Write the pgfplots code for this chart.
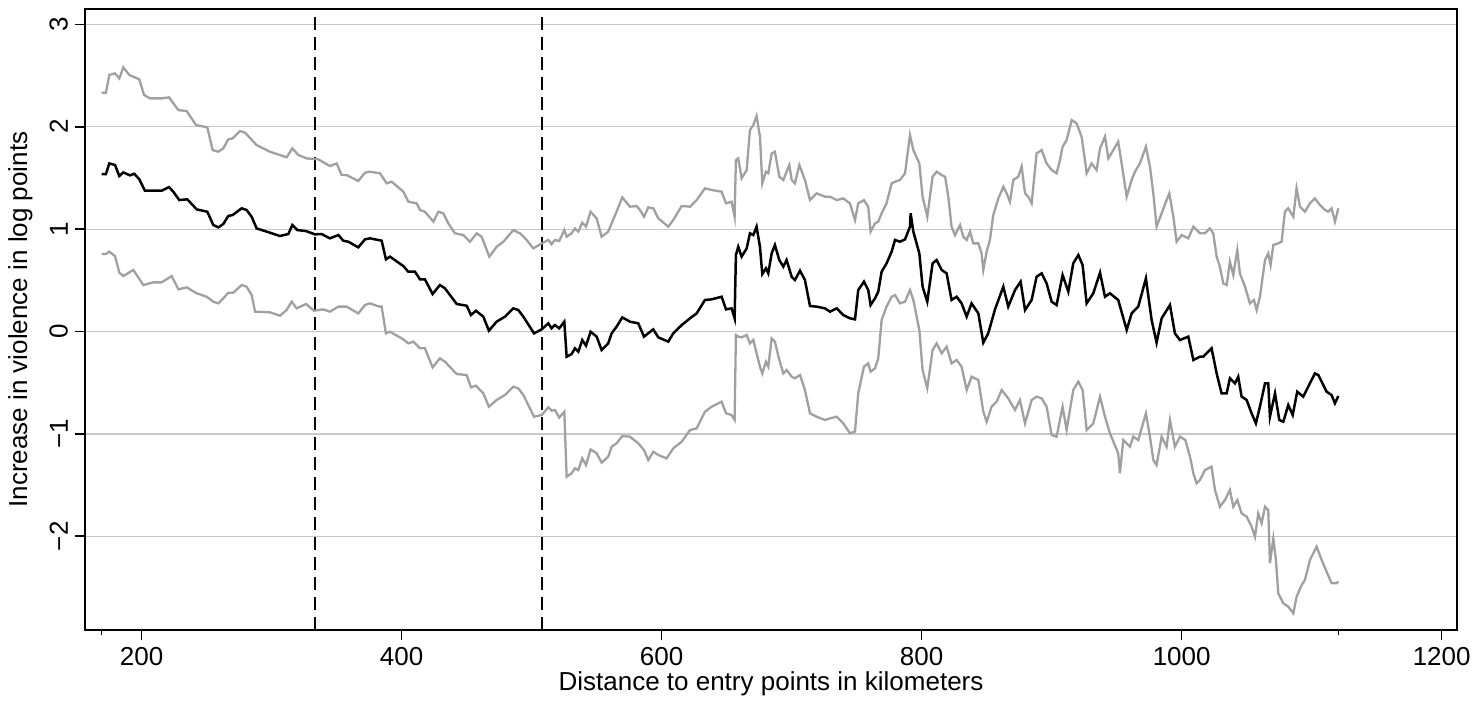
\documentclass[border=0pt]{standalone}
\usepackage{pgfplots}
\pgfplotsset{compat=1.18}
\usepackage{fontspec}
\setmainfont{Liberation Sans}
\definecolor{cigray}{RGB}{160,160,160}
\definecolor{gridgray}{RGB}{200,200,200}
\begin{document}
\begin{tikzpicture}[font=\fontsize{13}{15.6}\selectfont]
\begin{axis}[
  scale only axis, width=686pt, height=310.5pt,
  xmin=156.4, xmax=1211.8, ymin=-2.915, ymax=3.15,
  xtick={200,400,600,800,1000,1200},
  ytick={-2,-1,0,1,2,3},
  yticklabels={−2,−1,0,1,2,3},
  extra x ticks={169.2,1120.5}, extra x tick labels={},
  extra x tick style={major tick length=2.5pt, grid=none},
  tick align=outside, major tick length=5pt,
  xtick pos=left, ytick pos=left,
  ymajorgrids, grid style={gridgray, line width=0.6pt},
  axis line style={line width=0.8pt},
  every tick/.style={black, line width=0.8pt},
  /pgf/number format/assume math mode=true,
  /pgf/number format/1000 sep={},
  xlabel={Distance to entry points in kilometers},
  ylabel={Increase in violence in log points},
  xlabel style={at={(axis description cs:0.5,0)}, anchor=north, inner sep=0pt, yshift=-20.5pt},
  ylabel style={at={(axis description cs:-0.0379,0.5)}, anchor=south, inner sep=0pt, rotate=0},
  yticklabel style={rotate=90, anchor=south},
  clip=true,
]
\addplot[black, line width=1.1pt, dash pattern=on 6.5pt off 3.5pt] coordinates {(333.3,-2.915) (333.3,3.15)};
\addplot[black, line width=1.1pt, dash pattern=on 6.5pt off 3.5pt] coordinates {(507.7,-2.915) (507.7,3.15)};
% upper bound
\addplot[cigray, line width=1.15pt] table {
x y
169.2 2.332
172.5 2.332
175.1 2.505
179.5 2.521
182.8 2.472
185.9 2.580
190.5 2.505
198.2 2.463
201.8 2.310
206.4 2.277
215.4 2.277
221.0 2.287
228.2 2.163
234.6 2.153
241.8 2.017
250.5 1.994
254.6 1.772
259.0 1.756
262.8 1.789
266.6 1.877
270.0 1.886
275.6 1.958
279.5 1.942
288.4 1.821
298.7 1.756
311.5 1.701
315.9 1.789
320.5 1.724
326.9 1.691
335.9 1.681
344.8 1.616
350.0 1.642
353.8 1.528
357.7 1.528
366.6 1.470
371.8 1.551
375.6 1.561
383.3 1.545
388.5 1.447
392.3 1.463
401.3 1.366
405.1 1.268
411.5 1.252
414.1 1.187
417.9 1.170
424.4 1.073
428.2 1.170
432.0 1.154
435.9 1.056
441.0 0.959
447.4 0.942
452.6 0.877
457.7 0.959
461.5 0.926
467.4 0.731
473.1 0.828
478.2 0.877
485.9 0.991
491.0 0.959
496.1 0.894
501.3 0.812
507.7 0.861
512.8 0.894
515.3 0.854
517.9 0.894
521.2 0.884
525.1 0.991
526.9 0.926
530.7 0.959
533.3 1.007
535.9 0.975
538.9 1.063
541.8 1.024
545.3 1.170
550.0 1.105
553.8 0.926
558.9 0.975
561.5 1.056
565.3 1.170
569.7 1.310
575.6 1.219
580.7 1.226
583.3 1.187
586.4 1.121
589.7 1.213
593.6 1.203
597.4 1.105
605.1 1.024
608.9 1.089
615.4 1.226
621.8 1.219
626.9 1.284
633.3 1.398
638.4 1.382
646.1 1.366
649.5 1.252
653.8 1.268
656.1 1.121
657.1 1.675
658.9 1.691
661.5 1.496
665.4 1.577
667.9 1.968
670.5 2.017
673.0 2.105
675.6 1.903
677.4 1.447
680.2 1.561
682.0 1.545
684.6 1.740
687.1 1.756
690.5 1.512
693.6 1.480
696.1 1.561
698.2 1.626
700.0 1.480
702.5 1.447
705.9 1.626
710.2 1.480
714.1 1.284
719.2 1.349
725.6 1.317
729.5 1.317
734.6 1.284
739.7 1.300
744.8 1.252
748.7 1.089
751.2 1.252
755.6 1.284
758.9 1.219
760.7 0.975
764.1 1.056
766.6 1.073
769.2 1.154
773.0 1.252
776.9 1.447
779.5 1.463
783.3 1.480
787.2 1.545
791.0 1.919
793.6 1.772
798.2 1.642
800.7 1.317
804.3 1.121
808.4 1.512
811.5 1.561
815.4 1.528
818.0 1.512
820.5 1.317
823.0 1.024
825.6 0.942
829.5 1.040
832.0 0.926
834.6 0.894
837.2 0.975
839.7 0.861
843.6 0.861
846.1 0.763
847.4 0.601
850.0 0.780
852.5 0.894
855.1 1.138
859.0 1.300
862.8 1.414
865.4 1.349
867.9 1.268
870.5 1.480
874.3 1.512
876.9 1.610
879.5 1.349
882.0 1.317
884.6 1.252
888.4 1.740
892.3 1.772
896.1 1.642
900.0 1.577
903.8 1.545
906.4 1.675
908.4 1.805
911.5 1.870
914.1 2.000
915.4 2.065
919.2 2.033
923.0 1.903
925.6 1.675
926.9 1.545
930.7 1.642
934.6 1.577
937.2 1.789
941.0 1.903
943.6 1.691
947.4 1.772
951.2 1.854
953.8 1.642
957.7 1.317
961.5 1.480
964.1 1.561
967.9 1.642
972.5 1.805
975.6 1.610
978.2 1.349
980.7 1.024
984.6 1.154
988.4 1.284
990.5 1.349
993.6 1.121
996.1 0.877
1000.0 0.942
1005.1 0.910
1009.0 1.024
1014.1 0.959
1017.9 0.959
1021.7 1.007
1024.3 0.959
1026.9 0.731
1029.4 0.633
1032.0 0.470
1034.6 0.454
1037.1 0.682
1039.7 0.552
1042.8 0.796
1044.8 0.568
1048.7 0.438
1052.5 0.275
1055.6 0.308
1057.7 0.210
1060.2 0.340
1064.1 0.698
1066.6 0.763
1068.4 0.649
1070.5 0.845
1074.3 0.861
1076.9 0.877
1079.4 1.170
1082.0 1.203
1085.9 1.121
1088.4 1.398
1091.0 1.219
1094.8 1.170
1098.7 1.252
1102.5 1.300
1106.4 1.235
1110.2 1.187
1112.8 1.170
1115.3 1.203
1117.9 1.073
1120.5 1.203
};
% lower bound
\addplot[cigray, line width=1.15pt] table {
x y
169.2 0.757
172.5 0.757
175.1 0.780
179.5 0.737
182.8 0.575
185.9 0.542
193.6 0.601
201.3 0.454
209.0 0.480
215.4 0.480
223.1 0.542
228.2 0.412
234.6 0.431
242.3 0.373
250.0 0.340
255.1 0.291
259.0 0.275
262.8 0.324
266.6 0.379
270.5 0.379
276.9 0.454
280.7 0.438
284.6 0.356
287.2 0.194
298.7 0.187
306.4 0.155
311.5 0.210
315.4 0.291
319.2 0.226
326.4 0.269
332.5 0.203
339.7 0.216
344.8 0.194
351.3 0.243
357.7 0.243
366.6 0.177
371.8 0.259
375.6 0.275
382.8 0.243
384.6 0.243
387.9 -0.018
391.0 -0.002
401.2 -0.076
405.1 -0.116
409.0 -0.099
414.1 -0.164
417.9 -0.164
423.8 -0.350
429.4 -0.262
433.3 -0.295
442.3 -0.415
450.0 -0.425
453.3 -0.545
457.1 -0.529
462.8 -0.604
467.1 -0.734
473.0 -0.669
479.4 -0.620
485.9 -0.539
489.7 -0.555
493.6 -0.620
501.8 -0.832
507.7 -0.815
512.8 -0.741
515.3 -0.773
517.9 -0.767
521.2 -0.841
525.1 -0.783
526.9 -1.418
530.7 -1.385
533.3 -1.336
535.9 -1.353
538.9 -1.239
541.8 -1.304
545.3 -1.151
550.0 -1.190
553.8 -1.281
558.9 -1.222
561.5 -1.125
565.3 -1.092
569.7 -1.021
575.6 -1.027
582.0 -1.092
586.4 -1.157
589.7 -1.255
593.6 -1.174
597.4 -1.206
603.8 -1.239
608.9 -1.141
615.4 -1.076
621.8 -0.962
626.9 -0.946
633.3 -0.783
638.4 -0.734
646.1 -0.685
649.5 -0.799
653.8 -0.815
656.1 -0.864
657.1 -0.034
658.9 -0.050
661.5 -0.057
665.4 -0.034
667.9 -0.116
670.5 -0.083
673.0 -0.213
675.6 -0.343
677.4 -0.409
680.2 -0.295
682.0 -0.343
684.6 -0.067
687.1 -0.099
690.5 -0.278
693.6 -0.409
696.1 -0.376
700.0 -0.441
702.5 -0.457
706.4 -0.425
710.2 -0.571
714.1 -0.799
719.2 -0.832
725.6 -0.864
729.5 -0.848
734.6 -0.832
739.7 -0.897
744.8 -0.994
748.7 -0.978
751.2 -0.604
755.6 -0.343
758.9 -0.311
760.7 -0.392
764.1 -0.360
766.6 -0.262
769.2 0.112
773.0 0.243
776.9 0.340
779.5 0.356
783.3 0.275
787.2 0.291
791.0 0.405
793.6 0.308
798.2 0.015
800.7 -0.376
804.3 -0.555
808.4 -0.181
811.5 -0.116
815.4 -0.213
819.2 -0.148
823.0 -0.311
826.9 -0.278
830.7 -0.343
834.6 -0.571
838.4 -0.441
843.6 -0.474
847.4 -0.783
850.0 -0.881
853.8 -0.734
857.7 -0.685
861.5 -0.571
866.6 -0.653
871.8 -0.767
875.6 -0.669
879.5 -0.897
884.6 -0.669
888.4 -0.636
892.3 -0.653
896.1 -0.734
900.0 -1.011
903.8 -1.027
908.4 -0.734
911.5 -0.962
916.6 -0.571
920.5 -0.490
923.8 -0.571
926.9 -0.962
932.0 -0.897
937.2 -0.636
941.0 -0.832
944.8 -0.994
951.2 -1.190
952.5 -1.385
955.1 -1.060
960.2 -1.125
962.8 -1.027
966.6 -1.060
972.5 -0.799
975.6 -1.027
978.2 -1.255
980.7 -1.304
984.6 -1.027
988.4 -1.125
991.0 -0.864
994.8 -1.125
998.7 -1.027
1002.8 -1.060
1006.4 -1.222
1009.0 -1.385
1011.5 -1.483
1014.1 -1.450
1017.9 -1.353
1023.0 -1.320
1025.6 -1.548
1029.4 -1.711
1033.3 -1.646
1037.1 -1.548
1039.7 -1.711
1042.8 -1.646
1046.1 -1.776
1050.0 -1.808
1053.8 -1.906
1056.4 -2.004
1058.9 -1.776
1061.5 -1.873
1064.1 -1.711
1066.6 -1.743
1067.9 -2.264
1070.5 -2.020
1072.5 -2.231
1074.3 -2.557
1078.2 -2.655
1082.0 -2.687
1085.9 -2.752
1088.4 -2.590
1092.3 -2.476
1094.8 -2.427
1098.7 -2.231
1103.8 -2.101
1107.7 -2.231
1111.5 -2.345
1115.3 -2.459
1119.2 -2.459
1120.5 -2.441
};
% point estimate
\addplot[black, line width=1.25pt] table {
x y
169.2 1.538
172.5 1.538
175.1 1.642
179.5 1.626
182.8 1.519
185.9 1.554
191.0 1.525
194.3 1.541
198.2 1.486
202.5 1.375
215.4 1.375
221.0 1.411
224.3 1.366
228.9 1.284
235.1 1.291
242.3 1.193
250.5 1.170
255.1 1.040
259.0 1.017
262.8 1.050
266.6 1.128
270.0 1.138
276.9 1.203
280.7 1.187
284.6 1.121
288.4 1.007
294.8 0.981
306.4 0.933
312.8 0.952
315.9 1.040
319.7 0.991
326.4 0.981
333.3 0.949
338.4 0.952
344.8 0.910
351.3 0.942
355.1 0.887
359.0 0.877
366.6 0.822
371.8 0.900
375.6 0.910
384.6 0.887
387.9 0.705
391.0 0.731
401.2 0.640
405.1 0.584
410.2 0.584
414.1 0.509
417.9 0.509
423.8 0.366
429.4 0.454
433.3 0.422
442.3 0.269
450.0 0.252
453.3 0.161
457.1 0.203
462.8 0.145
467.1 0.008
473.0 0.096
479.4 0.145
485.9 0.226
489.7 0.210
493.6 0.145
501.8 -0.018
507.7 0.021
512.8 0.080
515.3 0.031
517.9 0.063
521.2 0.031
525.1 0.096
526.9 -0.246
530.7 -0.220
533.3 -0.164
535.9 -0.197
538.9 -0.083
541.8 -0.138
545.3 -0.002
550.0 -0.050
553.8 -0.181
558.9 -0.116
561.5 -0.018
565.3 0.047
569.7 0.138
575.6 0.096
582.0 0.080
586.4 -0.050
593.5 0.021
597.4 -0.057
605.1 -0.099
608.9 -0.018
615.4 0.063
621.8 0.129
626.9 0.177
633.3 0.308
638.4 0.314
646.1 0.340
649.5 0.216
653.8 0.226
656.1 0.129
657.1 0.747
658.9 0.828
661.5 0.731
665.4 0.812
667.9 0.959
670.5 0.942
673.0 1.024
675.6 0.828
677.4 0.562
680.2 0.617
682.0 0.568
684.6 0.763
687.1 0.845
690.5 0.698
693.6 0.633
696.1 0.698
700.0 0.535
702.5 0.503
706.4 0.594
710.2 0.503
714.1 0.249
719.2 0.243
725.6 0.226
729.5 0.194
734.6 0.226
739.7 0.161
744.8 0.129
748.7 0.119
751.2 0.405
755.6 0.487
758.9 0.405
760.7 0.259
764.1 0.324
766.6 0.389
769.2 0.584
773.0 0.666
776.9 0.780
779.5 0.894
783.3 0.877
787.2 0.900
791.0 1.024
791.5 1.154
793.6 0.975
798.2 0.763
800.7 0.438
804.3 0.291
808.4 0.666
811.5 0.698
815.4 0.601
819.2 0.568
823.0 0.308
826.9 0.340
830.7 0.275
834.6 0.145
838.4 0.275
843.6 0.177
847.4 -0.109
851.2 -0.018
856.4 0.216
862.8 0.438
866.6 0.243
871.8 0.405
876.1 0.487
879.5 0.210
884.6 0.308
888.4 0.535
892.3 0.568
896.1 0.470
900.0 0.291
903.8 0.259
908.4 0.552
912.8 0.389
916.6 0.666
920.5 0.747
923.8 0.649
926.9 0.275
932.0 0.373
937.2 0.575
941.0 0.340
944.8 0.373
951.2 0.308
957.7 0.015
961.5 0.177
966.6 0.243
972.5 0.519
976.9 0.112
980.7 -0.109
984.6 0.129
991.0 0.259
994.8 -0.018
998.7 -0.083
1005.1 -0.050
1009.0 -0.278
1014.1 -0.246
1016.6 -0.246
1023.0 -0.164
1026.9 -0.409
1030.7 -0.604
1034.6 -0.604
1037.1 -0.457
1041.0 -0.506
1043.5 -0.441
1046.1 -0.636
1050.0 -0.669
1053.8 -0.799
1057.1 -0.897
1060.2 -0.734
1064.1 -0.506
1066.6 -0.506
1067.9 -0.832
1071.8 -0.604
1075.1 -0.864
1078.2 -0.881
1082.0 -0.718
1085.4 -0.815
1088.9 -0.588
1093.5 -0.636
1102.5 -0.409
1105.1 -0.425
1111.5 -0.588
1115.3 -0.620
1117.9 -0.701
1120.5 -0.630
};
\end{axis}
\path (current axis.south west) ++(-42.5pt,-36.5pt) rectangle ([xshift=10.5pt,yshift=4.5pt]current axis.north east);
\end{tikzpicture}
\end{document}
